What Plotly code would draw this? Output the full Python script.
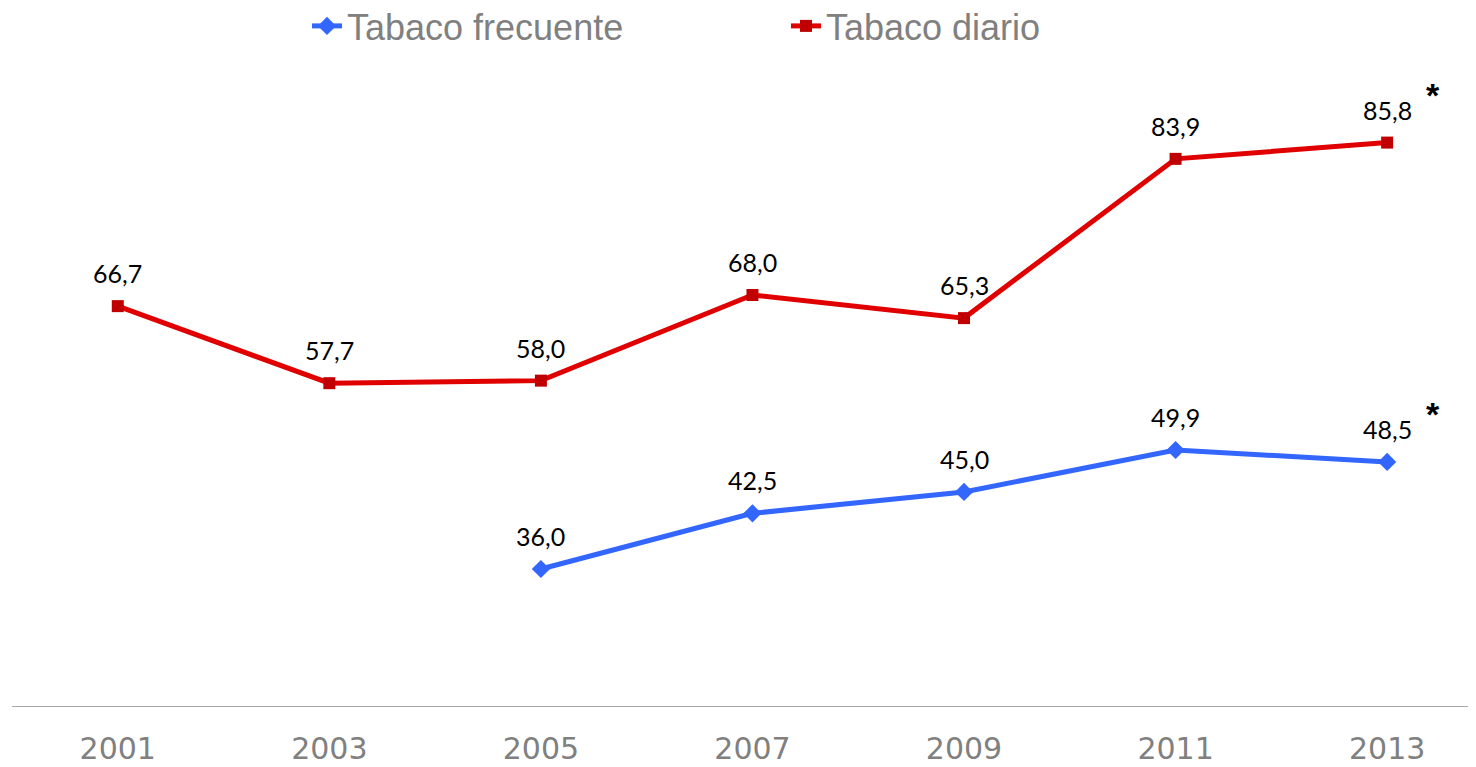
import plotly.graph_objects as go

years = ["2001", "2003", "2005", "2007", "2009", "2011", "2013"]
frecuente = [None, None, 36.0, 42.5, 45.0, 49.9, 48.5]
diario = [66.7, 57.7, 58.0, 68.0, 65.3, 83.9, 85.8]
label_frecuente = ["", "", "36,0", "42,5", "45,0", "49,9", "48,5"]
label_diario = ["66,7", "57,7", "58,0", "68,0", "65,3", "83,9", "85,8"]
starred = ["2013"]

fig = go.Figure()
fig.add_trace(go.Scatter(
    x=years, y=frecuente, name="Tabaco frecuente", mode="lines+markers",
    line=dict(color="#3366FF", width=5),
    marker=dict(symbol="diamond", size=14, color="#3366FF"),
))
fig.add_trace(go.Scatter(
    x=years, y=diario, name="Tabaco diario", mode="lines+markers",
    line=dict(color="#E00000", width=5),
    marker=dict(symbol="square", size=12, color="#C00000"),
))

ann = []
for ys, ls in [(frecuente, label_frecuente), (diario, label_diario)]:
    for i, (x, y, l) in enumerate(zip(years, ys, ls)):
        if y is None:
            continue
        ann.append(dict(x=i, y=y, xref="x", yref="y", text=l, showarrow=False, yshift=33, xshift=0,
                        font=dict(family="Lato, Noto Sans, sans-serif", size=25, color="#000000")))
        if x in starred:
            ann.append(dict(x=i, y=y, xref="x", yref="y", text="<b>*</b>", showarrow=False,
                            yshift=48, xshift=46,
                            font=dict(family="Liberation Sans, Arial, sans-serif", size=34, color="#000000")))

fig.update_layout(
    width=1468, height=759,
    margin=dict(l=4, r=0, t=13, b=61, autoexpand=False),
    paper_bgcolor="white", plot_bgcolor="white",
    showlegend=True,
    legend=dict(orientation="h", xref="paper", yref="paper", x=0.2015, y=1.0365,
                xanchor="left", yanchor="top", entrywidth=434, entrywidthmode="pixels",
                font=dict(family="Liberation Sans, Arial, sans-serif", size=36, color="#808080"),
                bgcolor="rgba(0,0,0,0)"),
    xaxis=dict(type="category", range=[-0.5, 6.42], showgrid=False, zeroline=False,
               showline=True, linecolor="#A6A6A6", linewidth=1, ticks="", automargin=False,
               ticklabelstandoff=16,
               tickfont=dict(family="DejaVu Sans, Verdana, sans-serif", size=30, color="#808080")),
    yaxis=dict(range=[20, 100], visible=False),
    annotations=ann,
)

fig.write_html("out.html")
